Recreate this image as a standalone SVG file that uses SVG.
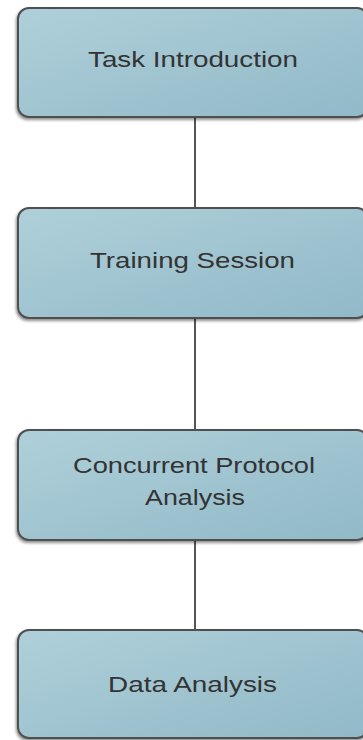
<svg xmlns="http://www.w3.org/2000/svg" width="363" height="740" viewBox="0 0 363 740">
<defs>
<linearGradient id="g" x1="0" y1="0" x2="1" y2="1">
<stop offset="0" stop-color="#afd0da"/>
<stop offset="1" stop-color="#91b9c7"/>
</linearGradient>
<filter id="sh" x="-10%" y="-10%" width="120%" height="130%">
<feGaussianBlur in="SourceAlpha" stdDeviation="1.5"/>
<feOffset dx="-1" dy="2" result="b"/>
<feComponentTransfer><feFuncA type="linear" slope="0.45"/></feComponentTransfer>
<feMerge><feMergeNode/><feMergeNode in="SourceGraphic"/></feMerge>
</filter>
</defs>
<style>
.box{fill:url(#g);stroke:#4f4f4f;stroke-width:2;filter:url(#sh)}
.lbl{font-family:"Liberation Sans",Arial,sans-serif;font-size:22px;fill:#333;text-anchor:middle}
.con{stroke:#555;stroke-width:2;fill:none}
</style>
<g id="connectors">
<line class="con" x1="195" y1="117" x2="195" y2="207"/>
<line class="con" x1="195" y1="318" x2="195" y2="429"/>
<line class="con" x1="195" y1="540" x2="195" y2="629"/>
</g>
<g id="n1">
<rect class="box" x="18" y="8" width="350" height="109" rx="11"/>
<text class="lbl" x="193" y="67" textLength="210" lengthAdjust="spacingAndGlyphs">Task Introduction</text>
</g>
<g id="n2">
<rect class="box" x="18" y="208" width="350" height="110" rx="11"/>
<text class="lbl" x="192.5" y="268" textLength="205" lengthAdjust="spacingAndGlyphs">Training Session</text>
</g>
<g id="n3">
<rect class="box" x="18" y="430" width="350" height="110" rx="11"/>
<text class="lbl" x="194" y="473" textLength="242" lengthAdjust="spacingAndGlyphs">Concurrent Protocol</text>
<text class="lbl" x="195" y="505" textLength="100" lengthAdjust="spacingAndGlyphs">Analysis</text>
</g>
<g id="n4">
<rect class="box" x="18" y="630" width="350" height="108" rx="11"/>
<text class="lbl" x="192.5" y="692" textLength="169" lengthAdjust="spacingAndGlyphs">Data Analysis</text>
</g>
</svg>
